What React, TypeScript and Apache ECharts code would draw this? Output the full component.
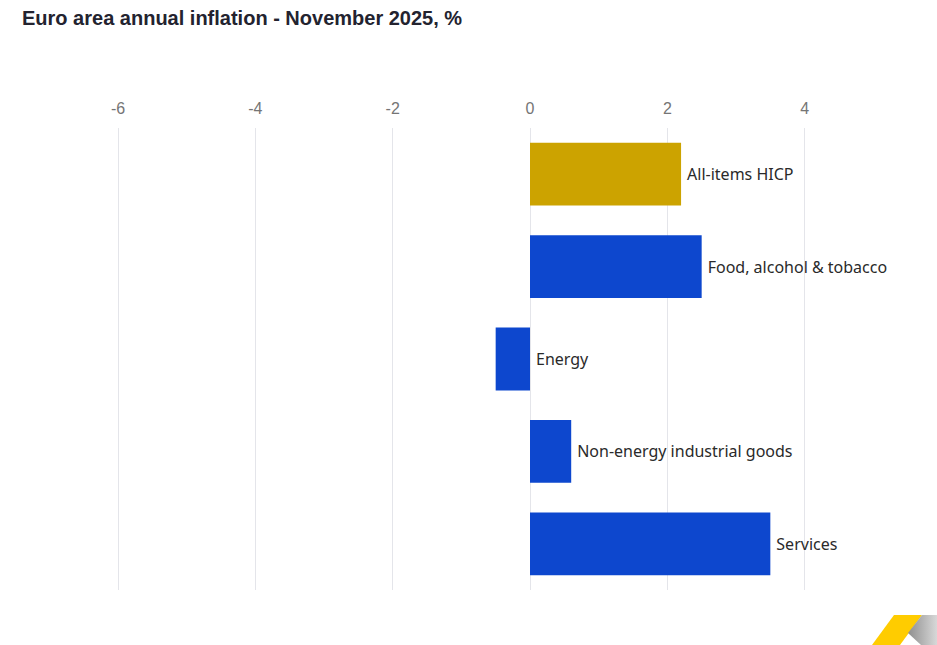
import React, { useEffect, useRef } from "react";
import * as echarts from "echarts";

const categories = [
  "All-items HICP",
  "Food, alcohol & tobacco",
  "Energy",
  "Non-energy industrial goods",
  "Services",
];
const values = [2.2, 2.5, -0.5, 0.6, 3.5];
const barColors = ["#CCA300", "#0D47CE", "#0D47CE", "#0D47CE", "#0D47CE"];
const titleText = "Euro area annual inflation - November 2025, %";

export default function App() {
  const ref = useRef<HTMLDivElement>(null);
  useEffect(() => {
    if (!ref.current) return;
    const chart = echarts.init(ref.current, undefined, { renderer: "svg" });
    chart.setOption({
      animation: false,
      backgroundColor: "#ffffff",
      title: {
        text: titleText,
        left: 17,
        top: 3,
        textStyle: {
          fontFamily: "Liberation Sans, Arial, sans-serif",
          fontWeight: "bold",
          fontSize: 20,
          color: "#23232f",
        },
      },
      grid: { left: 118, right: 18, top: 128, bottom: 55, outerBoundsMode: "none" },
      xAxis: {
        type: "value",
        position: "top",
        min: -6,
        max: 6,
        interval: 2,
        axisLine: { show: false },
        axisTick: { show: false },
        axisLabel: {
          margin: 12,
          fontFamily: "Liberation Sans, Arial, sans-serif",
          fontSize: 16,
          color: "#757575",
        },
        splitLine: { show: true, lineStyle: { color: "#e4e5ea", width: 1 } },
      },
      yAxis: {
        type: "category",
        data: categories,
        inverse: true,
        show: false,
      },
      series: [
        {
          type: "bar",
          data: values.map((v, i) => ({ value: v, itemStyle: { color: barColors[i] } })),
          barCategoryGap: "32%",
          label: {
            show: true,
            position: "right",
            distance: 6,
            formatter: (p: any) => categories[p.dataIndex],
            fontFamily: "Noto Sans, Open Sans, sans-serif",
            fontSize: 16,
            color: "#2a2a2a",
          },
        },
      ],
      graphic: [
        {
          type: "polygon",
          shape: { points: [[872, 645], [894, 615], [922, 615], [900, 645]] },
          style: { fill: "#FFCC00" },
        },
        {
          type: "polygon",
          shape: { points: [[922, 615], [937, 615], [937, 645], [921, 645], [908, 633]] },
          style: {
            fill: new echarts.graphic.LinearGradient(0, 0, 1, 0, [
              { offset: 0, color: "#8f8f8f" },
              { offset: 1, color: "#d8d8d8" },
            ]),
          },
        },
      ],
    });
    return () => chart.dispose();
  }, []);
  return (
    <div
      style={{
        position: "absolute",
        left: 0,
        top: 0,
        width: 937,
        height: 645,
        overflow: "hidden",
      }}
    >
      <div ref={ref} style={{ width: 960, height: 645 }} />
    </div>
  );
}
